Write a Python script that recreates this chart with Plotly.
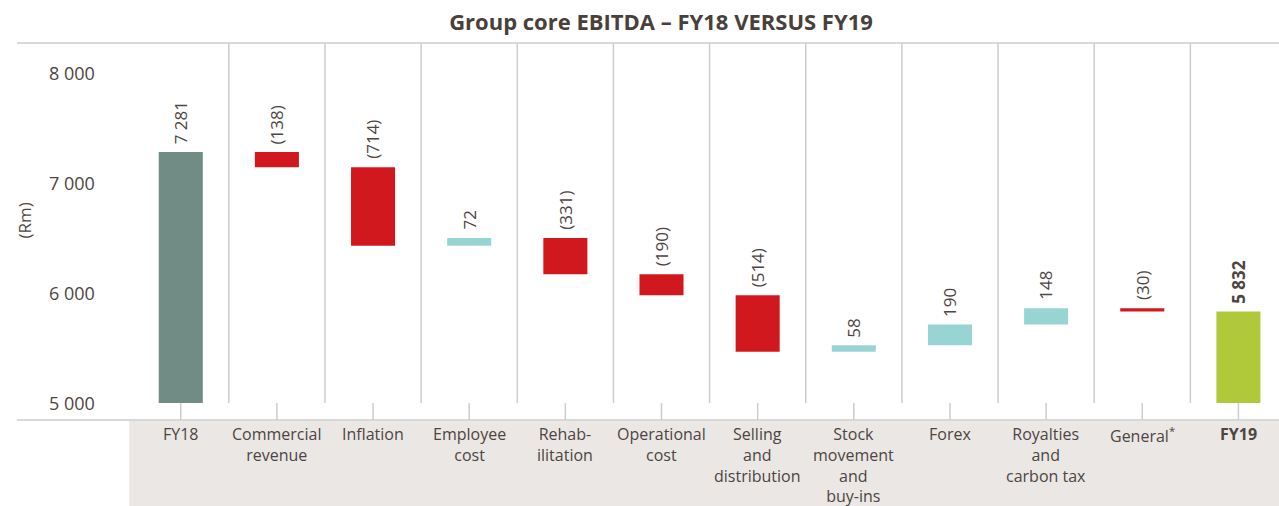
import plotly.graph_objects as go

# Group core EBITDA bridge, FY18 to FY19 (Rm)
categories = ["FY18", "Commercial<br>revenue", "Inflation", "Employee<br>cost", "Rehab-<br>ilitation",
              "Operational<br>cost", "Selling<br>and<br>distribution", "Stock<br>movement<br>and<br>buy-ins",
              "Forex", "Royalties<br>and<br>carbon tax", "General<sup>*</sup>", "<b>FY19</b>"]
opening = 7281
movements = [-138, -714, 72, -331, -190, -514, 58, 190, 148, -30]
closing = 5832
value_labels = ["7 281", "(138)", "(714)", "72", "(331)", "(190)", "(514)", "58", "190", "148", "(30)", "<b>5 832</b>"]
y_ticks = [5000, 6000, 7000, 8000]
y_tick_text = ["5 000", "6 000", "7 000", "8 000"]

C_OPEN = "#718c84"
C_NEG = "#d0181e"
C_POS = "#99d4d5"
C_CLOSE = "#afc93a"
TXT = "#4d4541"
LINE = "#cdcdcd"
FONT = "Open Sans"
FLOOR = 5000

# floating bar bases/heights from the running total
bases, heights, colors, tops = [], [], [], []
bases.append(FLOOR); heights.append(opening - FLOOR); colors.append(C_OPEN); tops.append(opening)
running = opening
for m in movements:
    new = running + m
    lo, hi = min(running, new), max(running, new)
    bases.append(lo); heights.append(hi - lo); colors.append(C_POS if m > 0 else C_NEG); tops.append(hi)
    running = new
bases.append(FLOOR); heights.append(closing - FLOOR); colors.append(C_CLOSE); tops.append(closing)

xs = list(range(len(categories)))

fig = go.Figure(go.Bar(x=xs, y=heights, base=bases, marker=dict(color=colors, line=dict(width=0)),
                       width=0.458, hoverinfo="skip"))

shapes = []
# column separators
for i in range(len(categories) - 1):
    shapes.append(dict(type="line", xref="x", yref="y", x0=i + 0.5, x1=i + 0.5, y0=FLOOR, y1=8273,
                       line=dict(color=LINE, width=1.5), layer="below"))
# category ticks
for i in xs:
    shapes.append(dict(type="line", xref="x", yref="paper", x0=i, x1=i, y0=0, y1=0.045,
                       line=dict(color=LINE, width=1.5), layer="below"))
# top rule and baseline
shapes.append(dict(type="line", xref="paper", yref="paper", x0=0, x1=1, y0=1, y1=1,
                   line=dict(color=LINE, width=1.5)))
shapes.append(dict(type="line", xref="paper", yref="paper", x0=0, x1=1, y0=0, y1=0,
                   line=dict(color=LINE, width=1.5)))
# label band
shapes.append(dict(type="rect", xref="paper", yref="paper", x0=0.089, x1=1, y0=-0.23, y1=-0.002,
                   fillcolor="#ebe7e5", line=dict(width=0), layer="below"))

annotations = []
for i, (t, lab) in enumerate(zip(tops, value_labels)):
    annotations.append(dict(x=i, y=t, xref="x", yref="y", text=lab, textangle=-90, showarrow=False,
                            yanchor="bottom", xanchor="center", yshift=6,
                            font=dict(family=FONT, size=17, color=TXT)))
for i, c in enumerate(categories):
    annotations.append(dict(x=i, y=0, xref="x", yref="paper", text=c, showarrow=False,
                            yanchor="top", xanchor="center", yshift=-1,
                            font=dict(family=FONT, size=16, color=TXT)))
for v, t in zip(y_ticks, y_tick_text):
    annotations.append(dict(x=30 / 1262, y=v, xref="paper", yref="y", text=t, showarrow=False,
                            xanchor="left", yanchor="middle",
                            font=dict(family=FONT, size=18, color=TXT)))
annotations.append(dict(x=7 / 1262, y=6660, xref="paper", yref="y", text="(Rm)", textangle=-90,
                        showarrow=False, xanchor="center", yanchor="middle",
                        font=dict(family=FONT, size=17, color=TXT)))

fig.update_layout(
    width=1279, height=506,
    margin=dict(l=17, r=0, t=43, b=86),
    paper_bgcolor="white", plot_bgcolor="white",
    showlegend=False,
    title=dict(text="<b>Group core EBITDA \u2013 FY18 VERSUS FY19</b>", x=661 / 1279, xanchor="center",
               y=1 - 22 / 506, yanchor="middle", font=dict(family=FONT, size=22, color="#4a403b")),
    xaxis=dict(range=[-1.703, 11.422], showticklabels=False, showgrid=False, zeroline=False,
               showline=False, fixedrange=True),
    yaxis=dict(range=[4845, 8273], showticklabels=False, showgrid=False, zeroline=False,
               showline=False, fixedrange=True, tickvals=y_ticks),
    shapes=shapes,
    annotations=annotations,
)

fig.write_html("out.html")
